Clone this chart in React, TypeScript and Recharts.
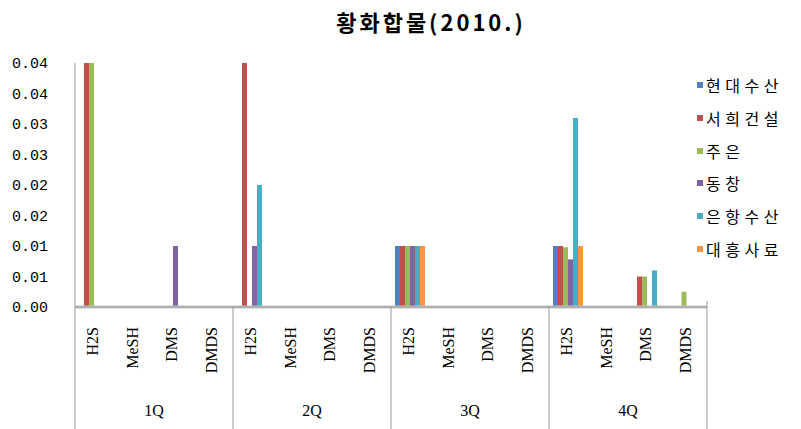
import { BarChart, Bar, XAxis, YAxis, ReferenceLine } from 'recharts';

const compounds = ['H2S', 'MeSH', 'DMS', 'DMDS'];
const quarters = ['1Q', '2Q', '3Q', '4Q'];
const companies = ['현대수산', '서희건설', '주은', '동창', '은항수산', '대흥사료'];
const colors = ['#4F81BD', '#C0504D', '#9BBB59', '#8064A2', '#4BACC6', '#F79646'];

// one value per quarter/compound: 1Q H2S, MeSH, DMS, DMDS, 2Q H2S, ...
const hyundai = [0, 0, 0, 0, 0, 0, 0, 0, 0.01, 0, 0, 0, 0.01, 0, 0, 0];
const seohee = [0.04, 0, 0, 0, 0.04, 0, 0, 0, 0.01, 0, 0, 0, 0.01, 0, 0.005, 0];
const jueun = [0.04, 0, 0, 0, 0, 0, 0, 0, 0.01, 0, 0, 0, 0.0098, 0, 0.005, 0.0025];
const dongchang = [0, 0, 0.01, 0, 0.01, 0, 0, 0, 0.01, 0, 0, 0, 0.0078, 0, 0, 0];
const eunhang = [0, 0, 0, 0, 0.02, 0, 0, 0, 0.01, 0, 0, 0, 0.031, 0, 0.006, 0];
const daeheung = [0, 0, 0, 0, 0, 0, 0, 0, 0.01, 0, 0, 0, 0.01, 0, 0, 0];

const seriesValues = [hyundai, seohee, jueun, dongchang, eunhang, daeheung];

const yTicks = [0, 0.005, 0.01, 0.015, 0.02, 0.025, 0.03, 0.035, 0.04];
const yTickLabels = ['0.00', '0.01', '0.01', '0.02', '0.02', '0.03', '0.03', '0.04', '0.04'];

const data = quarters.flatMap((q, qi) =>
  compounds.map((c, ci) => {
    const row: Record<string, string | number> = { compound: c, quarter: q };
    companies.forEach((name, si) => {
      row[name] = seriesValues[si][qi * 4 + ci];
    });
    return row;
  })
);

const PLOT_LEFT = 75;
const PLOT_RIGHT = 707;
const PLOT_BOTTOM = 307;
const CAT_W = (PLOT_RIGHT - PLOT_LEFT) / data.length;

const CompoundTick = (props: any) => {
  const { x, y, payload } = props;
  const ty = y + 18;
  return (
    <text
      x={x - 2}
      y={ty}
      transform={`rotate(-90, ${x - 2}, ${ty})`}
      textAnchor="end"
      dominantBaseline="central"
      fontFamily="'Liberation Serif', serif"
      fontSize={16}
      fill="#000"
    >
      {payload.value}
    </text>
  );
};

const QuarterTick = (props: any) => {
  const { x, index } = props;
  const pos = index % 4;
  return (
    <g>
      {pos === 0 && (
        <line x1={x - CAT_W / 2} x2={x - CAT_W / 2} y1={PLOT_BOTTOM} y2={429} stroke="#9a9a9a" />
      )}
      {index === data.length - 1 && (
        <line x1={x + CAT_W / 2} x2={x + CAT_W / 2} y1={PLOT_BOTTOM - 6} y2={429} stroke="#9a9a9a" />
      )}
      {pos === 1 && (
        <text
          x={x + CAT_W / 2}
          y={410}
          textAnchor="middle"
          dominantBaseline="central"
          fontFamily="'Liberation Serif', serif"
          fontSize={16}
          fill="#000"
        >
          {quarters[Math.floor(index / 4)]}
        </text>
      )}
    </g>
  );
};

function ChartLegend() {
  return (
    <div style={{ position: 'absolute', left: 697, top: 68.6 }}>
      {companies.map((name, i) => (
        <div key={name} style={{ display: 'flex', alignItems: 'center', height: 32.8 }}>
          <span
            style={{ width: 6, height: 6, background: colors[i], marginRight: 3, display: 'inline-block' }}
          />
          <span
            style={{
              fontFamily: "'Noto Sans CJK KR', sans-serif",
              fontSize: 16,
              letterSpacing: 4.5,
              color: '#000',
              whiteSpace: 'nowrap',
            }}
          >
            {name}
          </span>
        </div>
      ))}
    </div>
  );
}

export default function App() {
  return (
    <div style={{ position: 'absolute', left: 0, top: 0, width: 801, height: 429, background: '#fff' }}>
      <div
        style={{
          position: 'absolute',
          left: 0,
          top: 5,
          width: 862,
          textAlign: 'center',
          fontFamily: "'Noto Sans CJK KR', sans-serif",
          fontWeight: 'bold',
          fontSize: 22,
          letterSpacing: 3,
          color: '#000',
        }}
      >
        황화합물(2010.)
      </div>
      <BarChart
        width={801}
        height={429}
        data={data}
        margin={{ top: 63, right: 801 - PLOT_RIGHT, left: 0, bottom: 0 }}
        barCategoryGap={4}
        barGap={0}
      >
        <XAxis
          xAxisId="c"
          dataKey="compound"
          interval={0}
          height={88}
          axisLine={{ stroke: '#999' }}
          tickLine={false}
          tickSize={0}
          tick={<CompoundTick />}
        />
        <XAxis
          xAxisId="q"
          dataKey="compound"
          interval={0}
          height={34}
          axisLine={false}
          tickLine={false}
          tickSize={0}
          tick={<QuarterTick />}
        />
        <YAxis
          width={PLOT_LEFT}
          domain={[0, 0.04]}
          ticks={yTicks}
          interval={0}
          tickFormatter={(v: number, i: number) => yTickLabels[i]}
          axisLine={{ stroke: '#999' }}
          tickLine={false}
          tickSize={0}
          tickMargin={27}
          tick={{ fontFamily: "'Liberation Mono', monospace", fontSize: 15, fill: '#000' }}
        />
        <ReferenceLine xAxisId="c" y={0} stroke="#c4c4c4" strokeWidth={3} />
        {companies.map((name, i) => (
          <Bar
            key={name}
            xAxisId="c"
            dataKey={name}
            name={name}
            fill={colors[i]}
            isAnimationActive={false}
          />
        ))}
      </BarChart>
      <ChartLegend />
    </div>
  );
}
